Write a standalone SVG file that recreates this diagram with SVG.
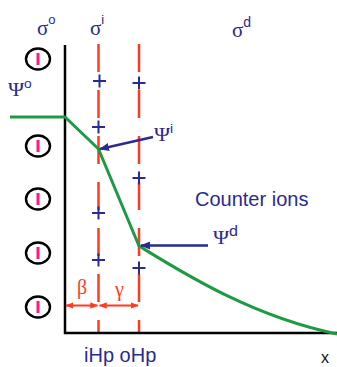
<svg xmlns="http://www.w3.org/2000/svg" width="337" height="367" viewBox="0 0 337 367">
<style>
.lbl{font-family:"Liberation Sans",Arial,sans-serif;fill:#2a2a8f;font-size:20px}
.grk{font-family:"Liberation Serif","Times New Roman",serif;fill:#2a2a8f}
.sup{font-family:"Liberation Sans",Arial,sans-serif}
.red{fill:#ff3b1f;font-family:"Liberation Serif","Times New Roman",serif;font-size:20px}
.dash{stroke:#ff3b1f;stroke-width:2.5;stroke-dasharray:28 18;fill:none}
.plus{stroke:#2a2a8f;stroke-width:2;fill:none}
.ion{fill:#fff;stroke:#000;stroke-width:2.4}
.bar{fill:#ff1a8c}
</style>
<defs>
<marker id="ah" viewBox="0 0 10 8" refX="9" refY="4" markerWidth="10" markerHeight="8" markerUnits="userSpaceOnUse" orient="auto-start-reverse">
<path d="M0,0 L10,4 L0,8 z" fill="#2a2a8f"/>
</marker>
<marker id="rh" viewBox="0 0 10 8" refX="9" refY="4" markerWidth="8" markerHeight="7" markerUnits="userSpaceOnUse" orient="auto-start-reverse">
<path d="M0,0 L10,4 L0,8 z" fill="#ff3b1f"/>
</marker>
</defs>
<rect width="337" height="367" fill="#fff"/>

<g id="ions">
<ellipse class="ion" cx="38" cy="59" rx="12" ry="10.5"/><rect class="bar" x="36.5" y="53" width="3" height="12"/>
<ellipse class="ion" cx="38" cy="146" rx="12" ry="10.5"/><rect class="bar" x="36.5" y="140" width="3" height="12"/>
<ellipse class="ion" cx="38" cy="199" rx="12" ry="10.5"/><rect class="bar" x="36.5" y="193" width="3" height="12"/>
<ellipse class="ion" cx="38" cy="253" rx="12" ry="10.5"/><rect class="bar" x="36.5" y="247" width="3" height="12"/>
<ellipse class="ion" cx="38" cy="307" rx="12" ry="10.5"/><rect class="bar" x="36.5" y="301" width="3" height="12"/>
</g>

<g id="planes">
<line class="dash" x1="98.5" y1="44" x2="98.5" y2="333"/>
<line class="dash" x1="139" y1="44" x2="139" y2="333"/>
</g>

<g id="axes" stroke="#000" stroke-width="2.5" fill="none">
<path d="M65,45 V333 H337"/>
</g>

<g id="charges" class="plus">
<path d="M93,81 h13 M99.5,74.5 v13"/>
<path d="M92,127 h13 M98.5,120.5 v13"/>
<path d="M92,213 h13 M98.5,206.5 v13"/>
<path d="M92,260 h13 M98.5,253.5 v13"/>
<path d="M132.5,83 h13 M139,76.5 v13"/>
<path d="M132.5,178 h13 M139,171.5 v13"/>
<path d="M132.5,268 h13 M139,261.5 v13"/>
</g>

<g id="potential">
<path d="M10,117 H65 L98.5,149 L139,246 C180,271 250,316 337,334" fill="none" stroke="#1e9a45" stroke-width="3" stroke-linejoin="round"/>
</g>

<g id="connectors">
<line x1="153" y1="137" x2="100" y2="149" stroke="#2a2a8f" stroke-width="2.5" marker-end="url(#ah)"/>
<line x1="208" y1="245.5" x2="141" y2="245.5" stroke="#2a2a8f" stroke-width="2.5" marker-end="url(#ah)"/>
<line x1="66" y1="305.5" x2="97.5" y2="305.5" stroke="#ff3b1f" stroke-width="2" marker-start="url(#rh)" marker-end="url(#rh)"/>
<line x1="99.5" y1="305.5" x2="138" y2="305.5" stroke="#ff3b1f" stroke-width="2" marker-start="url(#rh)" marker-end="url(#rh)"/>
</g>

<g id="labels">
<text class="grk" x="37" y="35" font-size="21">σ<tspan class="sup" font-size="13" dy="-11">o</tspan></text>
<text class="grk" x="90" y="35" font-size="21">σ<tspan class="sup" font-size="13" dy="-11">i</tspan></text>
<text class="grk" x="232" y="37" font-size="21">σ<tspan class="sup" font-size="14" dy="-10">d</tspan></text>
<text class="grk" transform="translate(8,96) scale(1.15,1)" font-size="19">Ψ<tspan class="sup" font-size="12" dy="-8">o</tspan></text>
<text class="grk" transform="translate(154,141) scale(1.15,1)" font-size="19">Ψ<tspan class="sup" font-size="12" dy="-8">i</tspan></text>
<text class="grk" transform="translate(213,244) scale(1.15,1)" font-size="19">Ψ<tspan class="sup" font-size="14" dy="-8">d</tspan></text>
<text class="lbl" x="195" y="206">Counter ions</text>
<text class="lbl" x="84" y="362">iHp oHp</text>
<text x="321" y="363" font-size="16" font-family="Liberation Sans,Arial,sans-serif" fill="#111">x</text>
<text class="red" x="77" y="294">β</text>
<text class="red" x="115" y="296">γ</text>
</g>
</svg>
